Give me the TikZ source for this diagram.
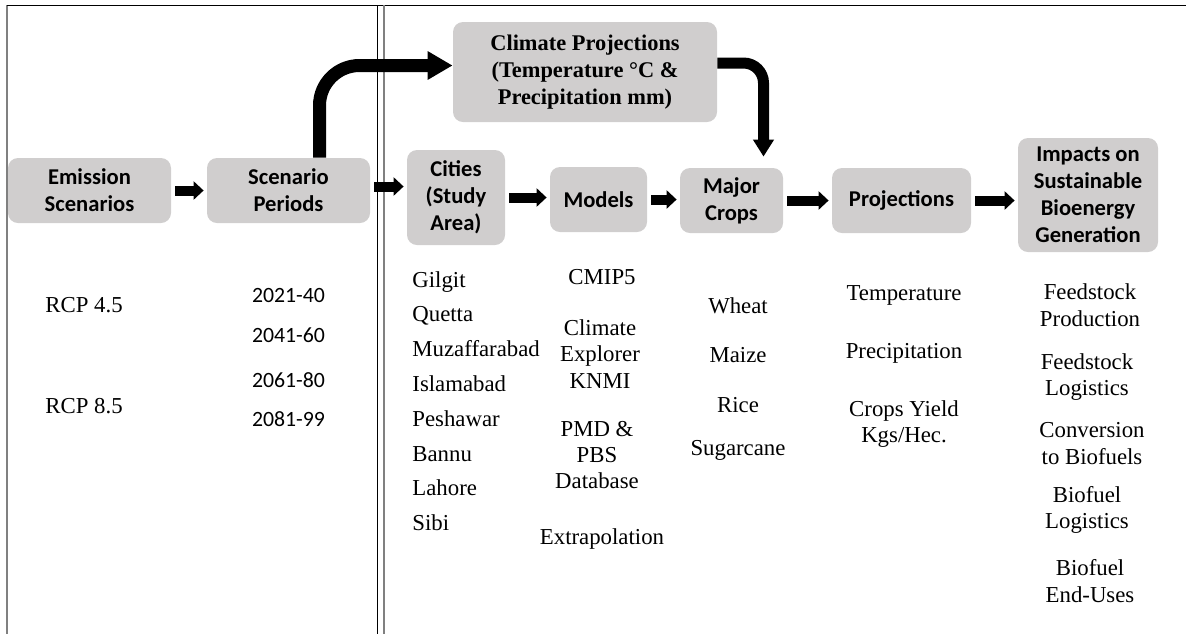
\documentclass[tikz,border=0pt]{standalone}
\usepackage{fontspec}
\setmainfont{Liberation Serif}
\setsansfont{Carlito}
\usetikzlibrary{arrows.meta, calc}
\definecolor{boxgray}{RGB}{208,206,206}
\definecolor{framegray}{RGB}{128,128,128}

\begin{document}
\begin{tikzpicture}[
  x=0.5pt, y=-0.5pt,
  font=\fontsize{11.4}{13.2}\selectfont,
  box/.style    ={fill=boxgray, rounded corners=5pt, align=center, inner sep=0pt,
                  font=\sffamily\bfseries\fontsize{11.3}{13.5}\selectfont},
  item/.style   ={align=center, inner sep=0pt},
  yearlbl/.style={anchor=base, inner sep=0pt, font=\sffamily\fontsize{10.9}{13}\selectfont},
  arr/.style    ={line width=5pt, -{Triangle[length=5pt, width=9pt]}, shorten <=2pt, shorten >=1.5pt},
  bigarr/.style ={line width=6.5pt, rounded corners=20pt, -{Triangle[length=12.5pt, width=13.5pt]}},
  bendarr/.style={line width=5.5pt, rounded corners=10pt, -{Triangle[length=8.5pt, width=10pt]}},
]
\useasboundingbox (0,0) rectangle (1186,634);

% --- frame: two panels ---
\draw[framegray, line width=0.75pt] (7,5) -- (7,634);
\draw[line width=0.5pt] (7,5) -- (1186,5);
\draw[line width=0.5pt] (377,5) -- (377,634);
\draw[framegray, line width=0.75pt] (384,5) -- (384,634);

% --- Row 1: main chain of boxes ---
\node[box, minimum width=81.5pt, minimum height=32.5pt] (emis) at (89.5,190.5) {Emission\\Scenarios};
\node[box, minimum width=81.5pt, minimum height=32.5pt] (per)  at (288.5,190.5) {Scenario\\Periods};
\node[box, minimum width=49pt,   minimum height=47.5pt] (city) at (456,197.5) {Cities\\(Study\\Area)};
\node[box, minimum width=48.5pt, minimum height=32.5pt] (mod)  at (598.5,199.5) {Models};
\node[box, minimum width=51.5pt, minimum height=32.5pt] (crop) at (731.5,200.5) {Major\\Crops};
\node[box, minimum width=69.5pt, minimum height=32.5pt] (proj) at (901.5,200.5) {Projections};
\node[box, minimum width=70pt,   minimum height=57pt]   (imp)  at (1088,195) {Impacts on\\Sustainable\\Bioenergy\\Generation};

% climate box above the chain
\node[box, font=\rmfamily\bfseries\fontsize{11.2}{13.5}\selectfont,
      minimum width=132pt, minimum height=50pt] (clim) at (585,72)
  {Climate Projections\\(Temperature °C \&\\Precipitation mm)};

\draw[arr] (emis.east) -- (per.west);
\draw[arr] ([yshift=2pt]per.east) -- ([yshift=2pt]per.east -| city.west);
\draw[arr] (city.east) -- (city.east -| mod.west);
\draw[arr] (mod.east)  -- (mod.east -| crop.west);
\draw[arr] (crop.east) -- (crop.east -| proj.west);
\draw[arr] (proj.east) -- (proj.east -| imp.west);

% periods feed the climate projections, which feed the crops
\draw[bigarr]  ([xshift=15.5pt]per.north) |- ([yshift=3.25pt]clim.west);
\draw[bendarr] ([yshift=4.5pt]clim.east) -| ([xshift=16pt, yshift=5.5pt]crop.north);

% --- Row 2: lists under each box ---
\node[anchor=base west, inner sep=0pt] (rcpa) at (45,312) {RCP 4.5};
\node[anchor=base west, inner sep=0pt] (rcpb) at (45,413) {RCP 8.5};
\foreach \yr/\yy [count=\i] in {2021-40/302, 2041-60/342, 2061-80/387, 2081-99/426}
  \node[yearlbl] (yr\i) at (288.5,\yy) {\yr};

\foreach \c [count=\i] in {Gilgit, Quetta, Muzaffarabad, Islamabad, Peshawar, Bannu, Lahore, Sibi}
  \node[anchor=base west, inner sep=0pt] (town\i) at (412,{287+34.8*(\i-1)}) {\c};

\node[item, anchor=base] (cmip)  at (602,284) {CMIP5};
\node[item]              (knmi)  at (600,354) {Climate\\Explorer\\KNMI};
\node[item]              (pmd)   at (597,455) {PMD \&\\PBS\\Database};
\node[item, anchor=base] (extra) at (602,544) {Extrapolation};

\node[item, anchor=base] (wheat) at (738,313) {Wheat};
\node[item, anchor=base] (maize) at (738,362) {Maize};
\node[item, anchor=base] (rice)  at (738,412) {Rice};
\node[item, anchor=base] (sugar) at (738,455) {Sugarcane};

\node[item, anchor=base] (temp)  at (904,300) {Temperature};
\node[item, anchor=base] (prec)  at (904,358) {Precipitation};
\node[item]              (yield) at (904,424) {Crops Yield\\Kgs/Hec.};

\node[item] (fprod) at (1090,305)   {Feedstock\\Production};
\node[item] (flog)  at (1087,377)   {Feedstock\\Logistics};
\node[item] (conv)  at (1092,443.5) {Conversion\\to Biofuels};
\node[item] (blog)  at (1087,510)   {Biofuel\\Logistics};
\node[item] (buse)  at (1090,581)   {Biofuel\\End-Uses};

\end{tikzpicture}
\end{document}
